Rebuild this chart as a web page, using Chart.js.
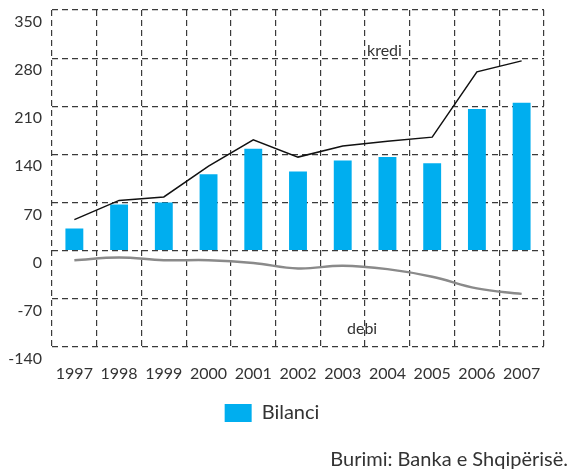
<!DOCTYPE html>
<html>
<head>
<meta charset="utf-8">
<script src="https://cdn.jsdelivr.net/npm/chart.js@4.4.0/dist/chart.umd.min.js"></script>
<style>
  body { margin: 0; background: #fff; }
  #wrap { width: 571px; height: 471px; }
</style>
</head>
<body>
<div id="wrap"><canvas id="bilanciChart" width="571" height="471"></canvas></div>
<script>
// të dhënat
const years = ['1997', '1998', '1999', '2000', '2001', '2002', '2003', '2004', '2005', '2006', '2007'];
const bilanci = [32, 67, 70, 111, 148, 115, 131, 136, 127, 206, 215];
const kredi = [45, 73, 78, 123, 161, 136, 152, 159, 165, 260, 276];
const debi = [-14, -10, -14, -14, -18, -26, -22, -27, -38, -55, -63];
const yTicks = [-140, -70, 0, 70, 140, 210, 280, 350];

const fontName = 'Lato, "DejaVu Sans", sans-serif';
const textColor = '#333';
const sourceText = 'Burimi: Banka e Shqipërisë.';

// etiketat "kredi" dhe "debi" brenda grafikut + burimi poshtë
const lineLabels = {
  id: 'lineLabels',
  afterDatasetsDraw(chart) {
    const { ctx, scales } = chart;
    ctx.save();
    ctx.font = '16px ' + fontName;
    ctx.fillStyle = textColor;
    ctx.textAlign = 'center';
    ctx.textBaseline = 'middle';
    ctx.fillText('kredi', scales.x.getPixelForValue(7) - 3, scales.y.getPixelForValue(290));
    ctx.fillText('debi', (scales.x.getPixelForValue(6) + scales.x.getPixelForValue(7)) / 2 - 3, scales.y.getPixelForValue(-114));
    ctx.restore();
  },
  afterDraw(chart) {
    const ctx = chart.ctx;
    ctx.save();
    ctx.font = '20px ' + fontName;
    ctx.fillStyle = textColor;
    ctx.textAlign = 'right';
    ctx.textBaseline = 'alphabetic';
    ctx.fillText(sourceText, chart.width - 3, chart.height - 5);
    ctx.restore();
  }
};

const ctx = document.getElementById('bilanciChart').getContext('2d');
new Chart(ctx, {
  data: {
    labels: years,
    datasets: [
      {
        type: 'bar',
        label: 'Bilanci',
        data: bilanci,
        backgroundColor: '#00AEEF',
        categoryPercentage: 1,
        barPercentage: 0.4,
        order: 3
      },
      {
        type: 'line',
        label: 'kredi',
        data: kredi,
        borderColor: '#111',
        borderWidth: 1.5,
        pointRadius: 0,
        tension: 0,
        order: 1
      },
      {
        type: 'line',
        label: 'debi',
        data: debi,
        borderColor: '#8a8a8a',
        borderWidth: 2.5,
        pointRadius: 0,
        tension: 0.4,
        order: 2
      }
    ]
  },
  options: {
    responsive: false,
    animation: false,
    layout: {
      padding: { left: 0, right: 27, top: 10, bottom: 38 }
    },
    plugins: {
      legend: {
        position: 'bottom',
        labels: {
          boxWidth: 27,
          boxHeight: 18,
          color: textColor,
          font: { family: fontName, size: 20 },
          padding: 3,
          filter: item => item.datasetIndex === 0
        }
      },
      tooltip: { enabled: false }
    },
    scales: {
      x: {
        grid: {
          offset: true,
          color: '#3a3a3a',
          lineWidth: 1.2,
          drawTicks: false
        },
        border: { display: false, dash: [6, 4] },
        ticks: {
          color: textColor,
          font: { family: fontName, size: 16 },
          padding: 17
        }
      },
      y: {
        min: -140,
        max: 350,
        afterBuildTicks: scale => {
          scale.ticks = yTicks.map(v => ({ value: v }));
        },
        afterFit: scale => {
          scale.width = 52;
          scale.paddingTop = 0;
          scale.paddingBottom = 0;
        },
        grid: {
          color: '#3a3a3a',
          lineWidth: 1.2,
          drawTicks: false
        },
        border: { display: false, dash: [6, 4] },
        ticks: {
          color: textColor,
          font: { family: fontName, size: 16 },
          padding: 10,
          labelOffset: 12
        }
      }
    }
  },
  plugins: [lineLabels]
});
</script>
</body>
</html>
